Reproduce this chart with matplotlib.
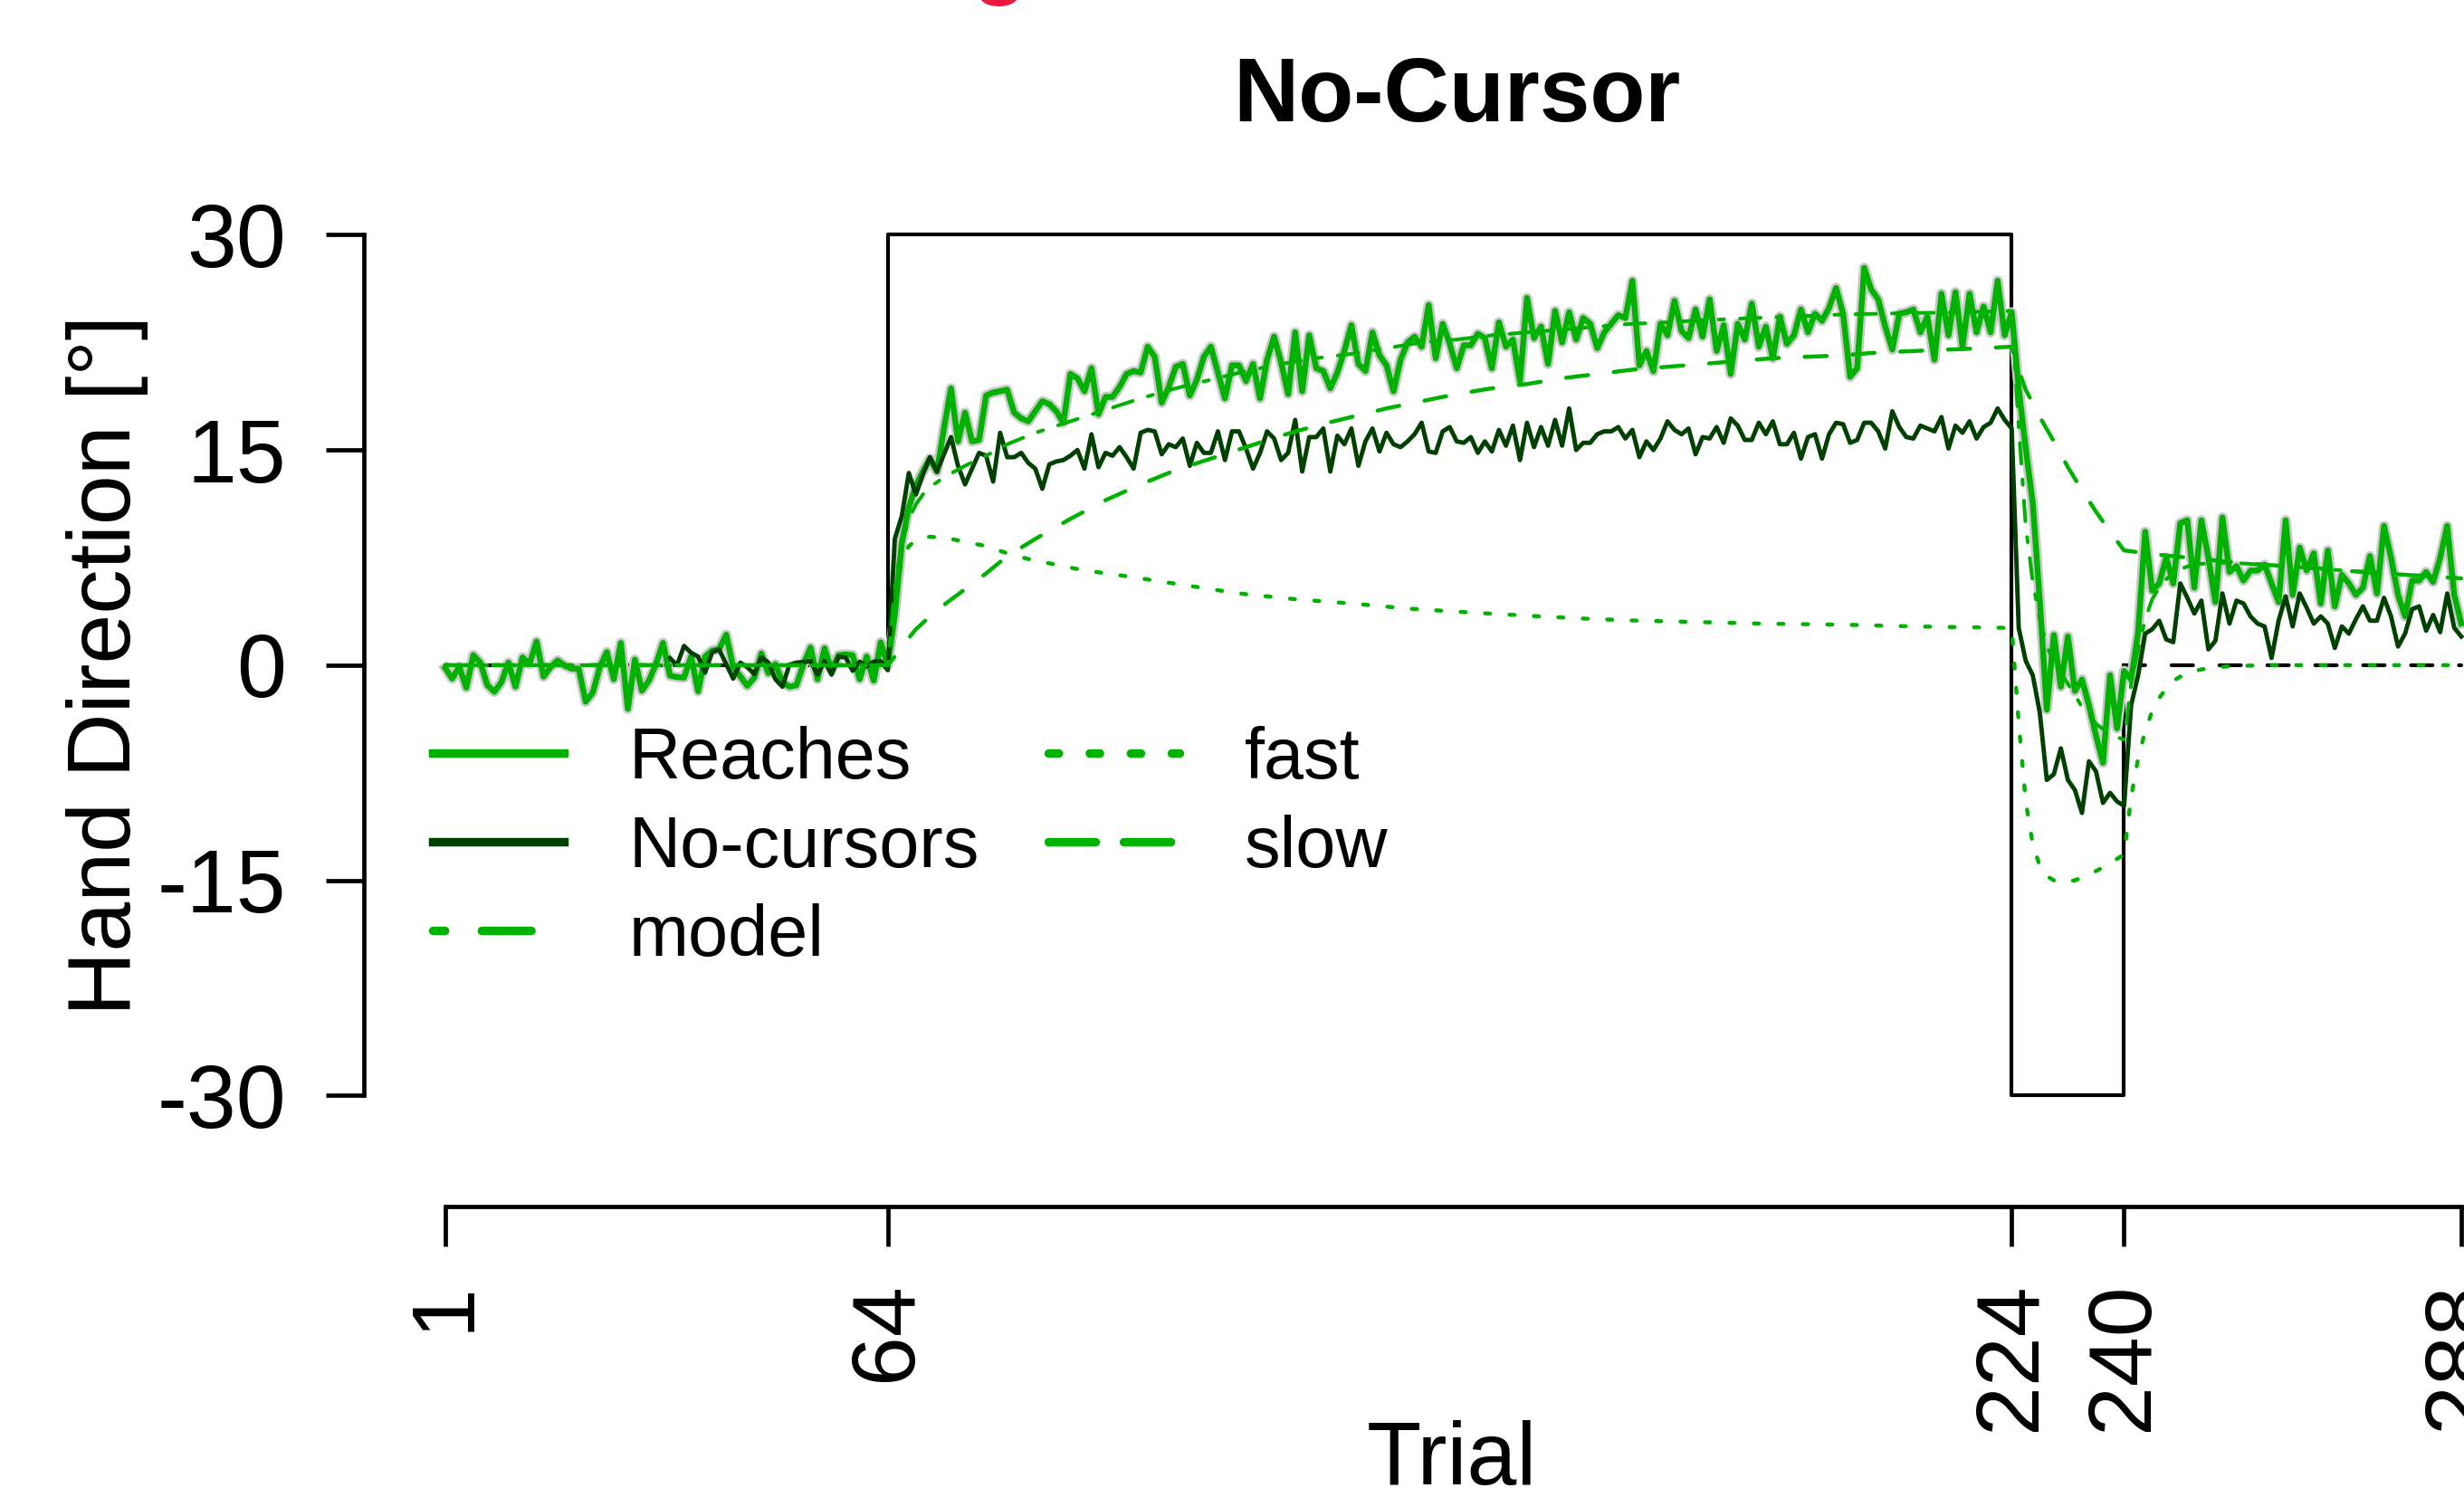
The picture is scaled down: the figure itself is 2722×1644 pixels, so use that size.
import matplotlib
matplotlib.use('Agg')
import matplotlib.pyplot as plt
from matplotlib.lines import Line2D
import matplotlib.patheffects as pe

plt.rcParams['font.family'] = ['Liberation Sans', 'DejaVu Sans']
plt.rcParams['axes.unicode_minus'] = False

# ---- data ----
reaches = [
    -0.2, -0.94, -0.1, -1.57, 0.7, 0.18, -1.4, -1.86, -1.19, 0.18,
    -1.5, 0.54, 0.07, 1.65, -0.8, -0.14, 0.33, -0.03, -0.24, -0.24,
    -2.55, -1.92, -0.14, 0.91, -0.98, 1.55, -3.04, 0.39, -1.78, -1.08,
    0.07, 1.55, -0.73, -0.83, -0.87, 0.6, -1.82, 0.6, 1.02, 1.12,
    2.13, -0.14, -0.77, -1.44, -0.87, 0.81, -0.56, 0.07, -1.19, -1.5,
    -1.4, 0.07, 1.23, -0.98, 1.17, -0.35, 0.7, 0.75, 0.7, -0.98,
    0.6, -1.08, 1.59, -0.03,
    3.5, 8.5, 11.0, 12.5, 13.5, 14.4, 13.5, 16.5, 19.3, 15.6,
    17.6, 15.6, 15.7, 18.8, 19.0, 19.1, 19.2, 17.6, 17.2, 17.0,
    17.7, 18.4, 18.2, 17.7, 16.9, 20.3, 20.0, 19.1, 20.7, 17.5,
    18.7, 18.7, 19.4, 20.3, 20.5, 20.4, 22.2, 21.5, 18.3, 19.4,
    20.8, 21.0, 18.8, 19.9, 21.5, 22.2, 20.4, 18.6, 20.9, 20.9,
    19.8, 21.0, 18.6, 21.3,
    22.9, 21.1, 18.9, 23.2, 19.1, 23.0, 20.7, 20.5, 19.3, 20.4,
    21.9, 23.7, 21.0, 20.5, 23.2, 21.6, 20.9, 19.1, 21.3, 22.5,
    22.9, 22.2, 25.1, 21.4, 23.8, 22.4, 20.7, 22.3, 22.3, 23.1,
    22.8, 20.7, 23.9, 22.2, 22.7, 19.8, 25.6, 22.8, 23.6, 21.0,
    24.7, 22.5, 24.6, 22.7, 24.2, 23.8, 22.1, 23.2, 23.8, 24.4,
    24.2, 26.8, 20.9, 21.9,
    20.5, 23.8, 23.0, 25.4, 23.3, 22.8, 24.8, 22.9, 25.5, 21.9,
    23.7, 20.3, 23.8, 22.7, 25.2, 22.2, 23.6, 21.4, 24.3, 22.4,
    23.0, 24.8, 23.2, 24.5, 24.0, 24.9, 26.3, 24.5, 20.1, 20.7,
    27.7, 26.2, 25.5, 23.6, 22.0, 24.5, 24.6, 24.8, 23.2, 24.3,
    21.3, 25.9, 23.0, 26.0, 22.2, 25.9, 23.2, 25.0, 23.2, 26.8,
    23.0, 24.6,
    19.3, 15.1, 11.3, 4.5, -3.1, 2.1, -1.5, 2.0, -1.8, -1.0,
    -2.8, -4.9, -6.8, -0.7, -4.4, -0.4, -1.0, 2.3, 9.3, 5.2,
    5.7, 7.5, 5.7, 9.9, 10.1, 5.4, 10.1, 7.5, 4.4, 10.3,
    6.5, 6.9, 5.9, 6.6, 6.6, 7.0, 5.7, 4.4, 10.1, 4.9,
    8.2, 6.6, 7.8, 4.3, 8.0, 4.1, 6.3, 5.7, 4.9, 5.4,
    7.6, 5.0, 9.7, 7.5, 4.9, 3.4, 5.9, 5.9, 6.5, 5.8,
    7.5, 9.7, 4.9, 2.9]
reach_trials = list(range(1, 289))

nocursors = [
    0.49, 0.0, 1.34, 0.87, 0.6, -0.52, 0.91, 1.08, 0.07, -0.94,
    0.18, -0.14, -0.62, 0.54, 0.18, -0.98, -1.5, 0.03, 0.18, 0.22,
    0.28, -0.66, 0.28, -0.66, 0.6, 0.54, -0.39, 0.24, -0.09, 0.24,
    0.28, -0.35,
    8.8, 10.4, 13.4, 11.9, 13.3, 14.5, 13.5, 14.7, 15.9, 13.9,
    12.6, 13.7, 14.8, 14.6, 12.8, 16.2, 14.5, 14.5, 14.8, 14.1,
    13.7, 12.3, 14.0, 14.2, 14.3, 14.6, 15.0, 13.7, 16.1, 13.8,
    14.8, 14.6, 15.2, 14.5, 13.7, 16.2, 16.4, 16.3, 14.7, 15.4,
    15.2, 15.8, 13.9, 15.5, 14.8, 14.8, 16.3, 14.3, 16.3, 16.3,
    15.1, 13.7, 14.8, 16.3,
    15.8, 14.3, 14.8, 17.1, 13.5, 15.9, 15.9, 16.5, 13.5, 16.0,
    15.4, 16.5, 13.9, 15.6, 16.5, 14.9, 16.2, 15.4, 15.2, 15.6,
    16.1, 16.9, 14.9, 14.8, 16.3, 16.6, 15.6, 15.5, 15.9, 14.8,
    15.6, 14.9, 16.4, 15.3, 16.7, 14.3, 16.9, 15.2, 16.6, 15.3,
    17.1, 15.3, 17.9, 15.0, 15.5, 15.5, 16.1, 16.3, 16.3, 16.6,
    15.8, 16.4, 14.5, 15.6,
    15.0, 15.8, 17.0, 16.4, 16.1, 16.5, 14.7, 15.9, 15.8, 16.6,
    15.5, 17.2, 16.7, 15.7, 15.7, 16.9, 16.1, 17.0, 15.4, 15.4,
    16.2, 14.4, 15.9, 16.1, 14.4, 16.1, 16.9, 16.8, 15.5, 15.7,
    16.9, 16.9, 16.3, 15.1, 17.7, 16.6, 15.9, 15.8, 16.7, 16.5,
    16.3, 17.3, 15.1, 16.7, 16.2, 17.0, 15.8, 16.6, 16.9, 17.9,
    17.1, 16.5,
    2.6, 0.3, -0.7, -3.3, -8.0, -7.6, -5.8, -8.0, -8.7, -10.3,
    -6.7, -7.4, -9.6, -8.9, -9.5, -9.8, -2.8, -0.7, 2.2, 2.5,
    3.1, 1.8, 1.6, 5.7, 4.7, 3.6, 4.5, 1.1, 1.7, 5.0,
    2.9, 4.5, 4.3, 3.4, 2.9, 2.7, 0.5, 3.1, 4.8, 2.7,
    5.0, 4.0, 2.9, 3.4, 2.9, 1.2, 2.7, 2.2, 3.2, 4.1,
    3.1, 3.1, 4.7, 3.4, 1.3, 2.2, 3.9, 4.1, 2.4, 3.5,
    2.3, 5.0, 2.6, 2.0]
nocursor_trials = list(range(33, 289))

model_trials = [1, 64, 65, 66, 67, 68, 69, 70, 72, 75, 78, 81, 85, 90, 95, 100, 105, 110, 115, 120,
                125, 130, 135, 140, 145, 150, 155, 160, 165, 170, 175, 180, 185, 190, 195, 200, 210, 217,
                224, 225, 226, 227, 228, 229, 230, 232, 234, 236, 238, 240, 241, 242, 243, 244, 245, 246,
                248, 250, 255, 260, 270, 280, 288]
model_vals = [0, 0, 5.4, 8.6, 10.2, 11.2, 11.9, 12.4, 13.1, 13.9, 14.6, 15.4, 16.2, 17.0, 17.8, 18.6, 19.3,
              19.9, 20.5, 21.0, 21.4, 21.7, 22.1, 22.5, 22.7, 23.0, 23.2, 23.4, 23.6, 23.8, 23.9, 24.05,
              24.15, 24.25, 24.35, 24.45, 24.55, 24.6, 24.7, 16.6, 9.7, 5.8, 3.2, 1.3, 0.3, -1.3, -2.9,
              -4.1, -4.8, -5.2, -1.3, 1.1, 3.2, 4.6, 5.4, 6.0, 6.7, 7.05, 7.15, 7.0, 6.65, 6.3, 6.05]

fast_trials = [1, 64, 65, 66, 67, 68, 69, 70, 72, 74, 78, 81, 84, 88, 91, 95, 98, 102, 106, 110,
               114, 118, 122, 126, 130, 138, 146, 155, 163, 171, 180, 188, 196, 202, 210, 217, 224, 225,
               226, 227, 228, 229, 230, 231, 233, 235, 237, 239, 240, 241, 242, 243, 244, 245, 246, 247,
               248, 249, 250, 252, 255, 260, 288]
fast_vals = [0, 0, 4.8, 7.3, 8.3, 8.7, 8.9, 8.95, 8.9, 8.7, 8.3, 7.8, 7.4, 7.0, 6.7, 6.4, 6.2, 5.9, 5.6,
             5.3, 5.0, 4.8, 4.6, 4.45, 4.3, 3.95, 3.7, 3.45, 3.25, 3.1, 3.0, 2.9, 2.85, 2.8, 2.7, 2.65,
             2.6, -4.0, -9.5, -12.5, -14.0, -14.7, -15.0, -15.1, -15.0, -14.6, -14.1, -13.5, -13.2,
             -9.2, -6.5, -4.6, -3.2, -2.3, -1.6, -1.1, -0.8, -0.55, -0.4, -0.2, -0.07, 0.0, 0.0]

slow_trials = [1, 64, 65, 66, 67, 68, 70, 72, 75, 78, 81, 85, 90, 95, 100, 105, 110, 115, 120, 125,
               130, 135, 140, 145, 150, 155, 160, 165, 170, 175, 180, 185, 190, 195, 200, 205, 210, 215,
               220, 224, 225, 226, 228, 230, 232, 234, 236, 238, 240, 244, 250, 255, 260, 265, 270, 275,
               280, 285, 288]
slow_vals = [0, 0, 0.6, 1.3, 1.9, 2.5, 3.4, 4.2, 5.3, 6.4, 7.6, 8.8, 10.2, 11.5, 12.6, 13.6, 14.4, 15.2,
             16.0, 16.7, 17.3, 17.9, 18.4, 18.9, 19.3, 19.6, 20.0, 20.3, 20.6, 20.8, 21.0, 21.2, 21.4,
             21.5, 21.6, 21.8, 21.9, 22.0, 22.1, 22.2, 20.6, 19.2, 17.3, 15.6, 13.8, 12.2, 10.7, 9.3,
             8.0, 7.75, 7.45, 7.2, 7.0, 6.85, 6.65, 6.45, 6.3, 6.15, 6.05]

# rotation schedule and error-clamp phase
schedule_x = [1, 64, 64, 224, 224, 240, 240]
schedule_y = [0, 0, 30, 30, -30, -30, 0]
clamp_x = [240, 288]
clamp_y = [0, 0]

xticks = [1, 64, 224, 240, 288]
yticks = [-30, -15, 0, 15, 30]
ytick_labels = ['-30', '-15', '0', '15', '30']

reach_col = '#00b200'
nocur_col = '#004000'
model_dash = (1.48, 4.33, 5.7, 4.33)
fast_dash = (1.25, 4.83)
slow_dash = (5.5, 6.4)

W, H = 2722, 1644
fig = plt.figure(figsize=(W / 100, H / 100), dpi=100)
ax = fig.add_axes([0, 0, 1, 1])
ax.patch.set_visible(False)
ax.set_xlim(-62.38, 288.39)
ax.set_ylim(-57.36, 46.37)

ax.plot(schedule_x, schedule_y, color='black', lw=3.0)
ax.plot(clamp_x, clamp_y, color='black', lw=3.0, dashes=(5.7, 7.0), dash_capstyle='round')

ax.plot(reach_trials, reaches, color=reach_col, lw=4.6,
        path_effects=[pe.Stroke(linewidth=8.2, foreground='#c9c9c9'), pe.Normal()])
ax.plot(nocursor_trials, nocursors, color=nocur_col, lw=3.5)

ax.plot(model_trials, model_vals, color=reach_col, lw=2.9, dashes=model_dash, dash_capstyle='round')
ax.plot(fast_trials, fast_vals, color=reach_col, lw=3.2, dashes=fast_dash, dash_capstyle='round')
ax.plot(slow_trials, slow_vals, color=reach_col, lw=3.2, dashes=slow_dash, dash_capstyle='round')

# axes drawn R-style, detached from the data
for side in ['top', 'right']:
    ax.spines[side].set_visible(False)
ax.spines['left'].set_position(('data', -10.57))
ax.spines['left'].set_bounds(-30, 30)
ax.spines['bottom'].set_position(('data', -37.74))
ax.spines['bottom'].set_bounds(1, 288)
for side in ['left', 'bottom']:
    ax.spines[side].set_linewidth(3.4)
ax.set_xticks(xticks)
ax.set_xticklabels([str(t) for t in xticks], rotation=90)
ax.set_yticks(yticks)
ax.set_yticklabels(ytick_labels)
ax.tick_params(axis='x', length=31.7, width=3.4, pad=28, labelsize=71)
ax.tick_params(axis='y', length=30, width=3.4, pad=31.7, labelsize=71)

fig.text(1609 / W, 1 - 134 / H, 'No-Cursor', ha='center', va='baseline', fontsize=72, fontweight='bold')
fig.text(144 / W, 1 - 735 / H, 'Hand Direction [°]', rotation=90, rotation_mode='anchor',
         ha='center', va='baseline', fontsize=71)
fig.text(1604 / W, 1 - 1640 / H, 'Trial', ha='center', va='baseline', fontsize=71)
fig.text(1104 / W, 1 - 7 / H, 'g', color='#e8193c', ha='center', va='bottom', fontsize=72, fontweight='bold')

handles = [
    Line2D([], [], color=reach_col, lw=6.8),
    Line2D([], [], color=nocur_col, lw=6.8),
    Line2D([], [], color=reach_col, lw=6.8, dashes=(1.4, 4.3, 5.8, 4.3), dash_capstyle='round'),
    Line2D([], [], color=reach_col, lw=6.8, dashes=(1.2, 3.6), dash_capstyle='round'),
    Line2D([], [], color=reach_col, lw=6.8, dashes=(5.5, 3.3), dash_capstyle='round'),
]
labels = ['Reaches', 'No-cursors', 'model', 'fast', 'slow']
ax.legend(handles, labels, ncol=2, loc='upper left', bbox_to_anchor=(478 / W, 1 - 802 / H),
          bbox_transform=fig.transFigure, frameon=False, borderpad=0, borderaxespad=0,
          fontsize=57, handlelength=1.83, handletextpad=0.91, columnspacing=0.96, labelspacing=0.29)

fig.savefig('out.png', dpi=100)
